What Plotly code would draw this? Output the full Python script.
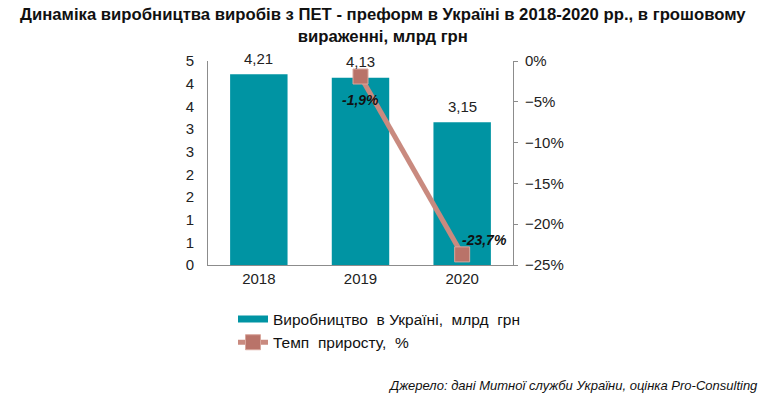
import plotly.graph_objects as go

years = ["2018", "2019", "2020"]
production = [4.21, 4.13, 3.15]
growth_years = ["2019", "2020"]
growth = [-1.9, -23.7]
left_tickvals = [0, 0.5, 1, 1.5, 2, 2.5, 3, 3.5, 4, 4.5]
left_ticktext = ["0", "1", "1", "2", "2", "3", "3", "4", "4", "5"]

title = "Динаміка виробництва виробів з ПЕТ - преформ в Україні в 2018-2020 рр., в грошовому<br>вираженні, млрд грн"
source = "Джерело: дані Митної служби України, оцінка Pro-Consulting"
bar_name = "Виробництво  в Україні,  млрд  грн"
line_name = "Темп  приросту,  %"
FONT = "Arial, Liberation Sans, sans-serif"
BAR_COLOR = "#0094A3"

x_pos = list(range(len(years)))
growth_pos = [years.index(y) for y in growth_years]

fig = go.Figure()
fig.add_trace(go.Bar(
    x=x_pos, y=production, name=bar_name, showlegend=False,
    marker=dict(color=BAR_COLOR, line=dict(width=0)),
    width=0.565,
))
# legend entry for the bars, drawn as a wide band like the reference
fig.add_trace(go.Scatter(
    x=[None], y=[None], name=bar_name, mode="lines", legendgroup="a",
    line=dict(color=BAR_COLOR, width=7), showlegend=True, hoverinfo="skip",
))
fig.add_trace(go.Scatter(
    x=growth_pos, y=growth, name=line_name, legendgroup="b",
    mode="lines+markers",
    line=dict(color="#C98A7F", width=5),
    marker=dict(symbol="square", size=15, color="#B97369", line=dict(color="#D9A69C", width=1)),
    cliponaxis=False,
    yaxis="y2",
))

annotations = []
for xp, v in zip(x_pos, production):
    annotations.append(dict(
        x=xp, y=v, xref="x", yref="y", text=f"{v:.2f}".replace(".", ","),
        showarrow=False, yshift=16, xanchor="center", yanchor="middle",
        font=dict(size=15, color="#222222"),
    ))
label_shifts = [(0, -23), (22, 14)]
for xp, v, (dx, dy) in zip(growth_pos, growth, label_shifts):
    annotations.append(dict(
        x=xp, y=v, xref="x", yref="y2", text="<b><i>" + f"{v:.1f}%".replace(".", ",") + "</i></b>",
        showarrow=False, xshift=dx, yshift=dy, xanchor="center", yanchor="middle",
        font=dict(size=14, color="#111111"),
    ))
annotations.append(dict(text="<i>" + source + "</i>", xref="paper", yref="paper",
                        x=(760 - 208) / 305.0, xanchor="right", y=-(385 - 265) / 204.0,
                        yanchor="middle", showarrow=False,
                        font=dict(size=13, color="#111111")))

fig.update_layout(
    width=775, height=398,
    paper_bgcolor="white", plot_bgcolor="white",
    font=dict(family=FONT, color="#222222", size=14),
    margin=dict(l=208, r=262, t=61, b=133),
    title=dict(text="<b>" + title + "</b>", x=0.494, xanchor="center", xref="container",
               y=0.95, yanchor="top", yref="container",
               font=dict(size=16.7, color="#111111")),
    showlegend=True,
    legend=dict(x=(233 - 208) / 305.0, xanchor="left", xref="paper",
                y=1 - 331 / 398.0, yanchor="middle", yref="container", orientation="v",
                font=dict(size=15.5, color="#111111"), tracegroupgap=4, itemwidth=30,
                bgcolor="rgba(0,0,0,0)", traceorder="normal"),
    xaxis=dict(range=[-0.5, len(years) - 0.5], tickvals=x_pos, ticktext=years,
               showline=True, linecolor="#8C8C8C", linewidth=1,
               ticks="", tickfont=dict(size=15), showgrid=False, zeroline=False),
    yaxis=dict(range=[0, 4.5], tickvals=left_tickvals, ticktext=left_ticktext,
               showline=True, linecolor="#8C8C8C", linewidth=1, showgrid=False,
               ticks="", ticklabelstandoff=10, tickfont=dict(size=15), zeroline=False),
    yaxis2=dict(range=[-25, 0], dtick=5, ticksuffix="%", overlaying="y", side="right",
                showline=True, linecolor="#8C8C8C", linewidth=1, showgrid=False,
                ticks="outside", ticklen=4, tickcolor="#8C8C8C", tickfont=dict(size=15),
                ticklabelstandoff=4, zeroline=False),
    annotations=annotations,
)

fig.write_html("out.html", config={"displayModeBar": False},
               post_script="document.body.style.margin='0';document.body.style.padding='0';")
